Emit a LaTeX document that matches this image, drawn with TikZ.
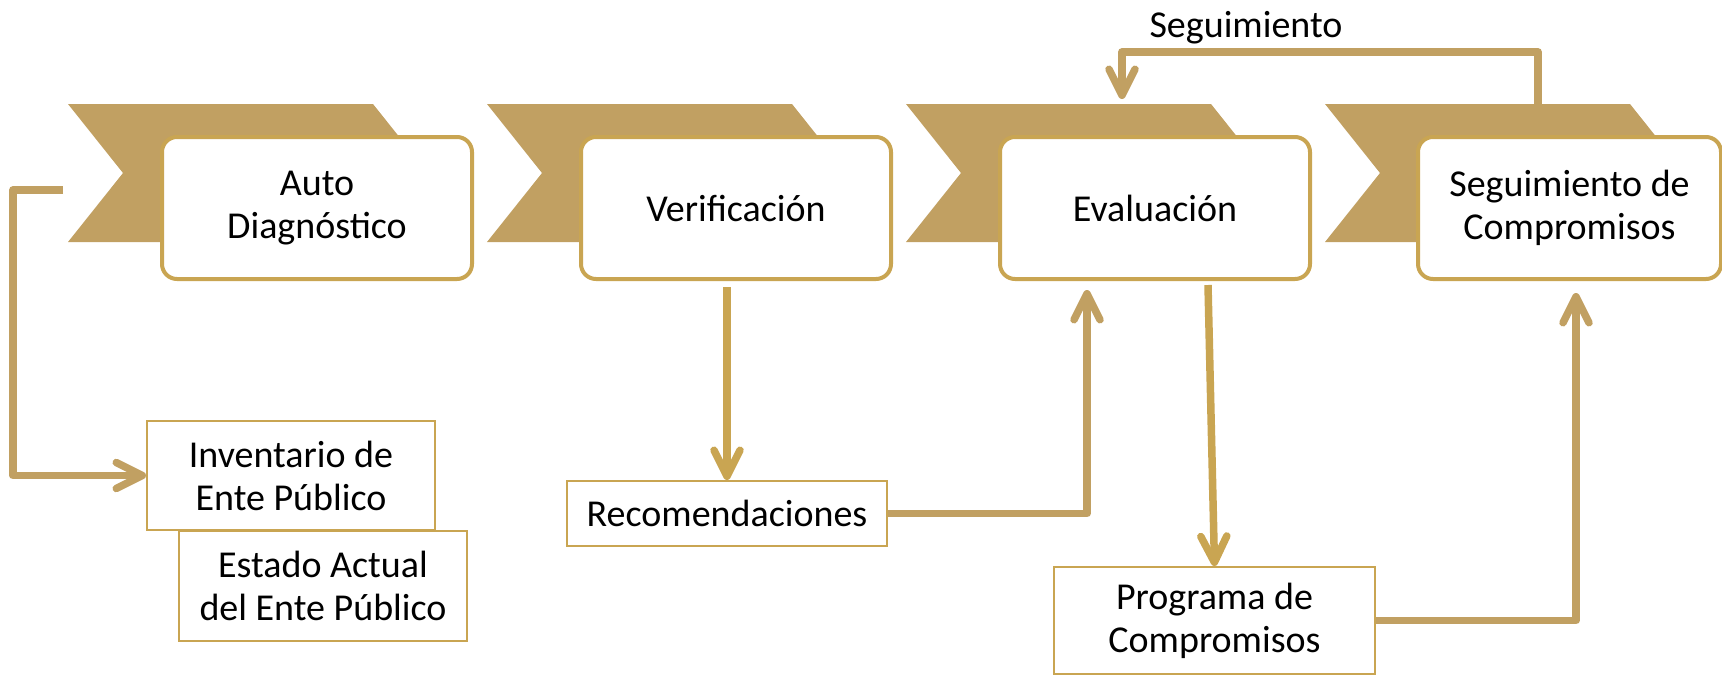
\documentclass[tikz,border=0pt]{standalone}
\usepackage{fontspec}
\setmainfont{Carlito}
\usetikzlibrary{arrows.meta,calc}
\definecolor{gold}{HTML}{C1A062}
\definecolor{ochre}{HTML}{C9A552}
\tikzset{
	stage/.style={draw=ochre, line width=4pt, fill=white, rounded corners=15pt, minimum width=310pt, minimum height=142pt, align=center, inner sep=0pt},
	note/.style={draw=ochre, line width=2pt, fill=white, align=center, inner sep=0pt},
	flow/.style={draw=gold, line width=7.5pt, line join=round, -{Straight Barb[length=26pt,width=26pt,round]}}
}
\begin{document}
\begin{tikzpicture}[x=1pt, y=-1pt, every node/.style={font=\fontsize{38}{43}\selectfont}]
	
	\useasboundingbox (0,0) rectangle (1722,678);
	\foreach \i in {0,...,3}{
		\coordinate (chev\i) at (68+419*\i,104);
		\fill[gold] (chev\i) -- ++(305,0) -- ++(55,69) -- ++(-55,69) -- ++(-305,0) -- ++(55,-69) -- cycle;
	}
	
	\node[stage] (auto) at (317,208) {Auto\\Diagnóstico};
	\node[stage] (verif) at (736,208) {Verificación};
	\node[stage] (eval) at (1155,208) {Evaluación};
	\node[stage, minimum width=303pt] (seg) at (1569.5,208) {Seguimiento de\\Compromisos};
	
	\node[note, minimum width=288pt, minimum height=109pt] (inv) at (291,475.5) {Inventario de\\Ente Público};
	\node[note, minimum width=288pt, minimum height=110pt] (estado) at (323,586) {Estado Actual\\del Ente Público};
	\node[note, minimum width=320pt, minimum height=65pt] (recom) at (727,513.5) {Recomendaciones};
	\node[note, minimum width=321pt, minimum height=107pt] (prog) at (1214.5,620.5) {Programa de\\Compromisos};
	\node[anchor=base] (segLbl) at (1246,37) {Seguimiento};
	
	\coordinate (autoTail) at (63,190);
	\draw[flow] (autoTail) -- ++(-50,0) |- (inv.west);
	\draw[flow, draw=ochre] ($(verif.south -| recom.north)+(0,6)$) -- (recom.north);
	\draw[flow] (recom.east) -| ($(eval.south)+(-68,9)$);
	\draw[flow, draw=ochre] ($(eval.south)+(53,4)$) -- (prog.north);
	\draw[flow] (prog.east) -| ($(seg.south)+(6.5,12)$);
	\draw[flow] ($(chev3)+(213,0)$) -- ++(0,-52) -| ($(chev2)+(216,-5)$);
\end{tikzpicture}
\end{document}
